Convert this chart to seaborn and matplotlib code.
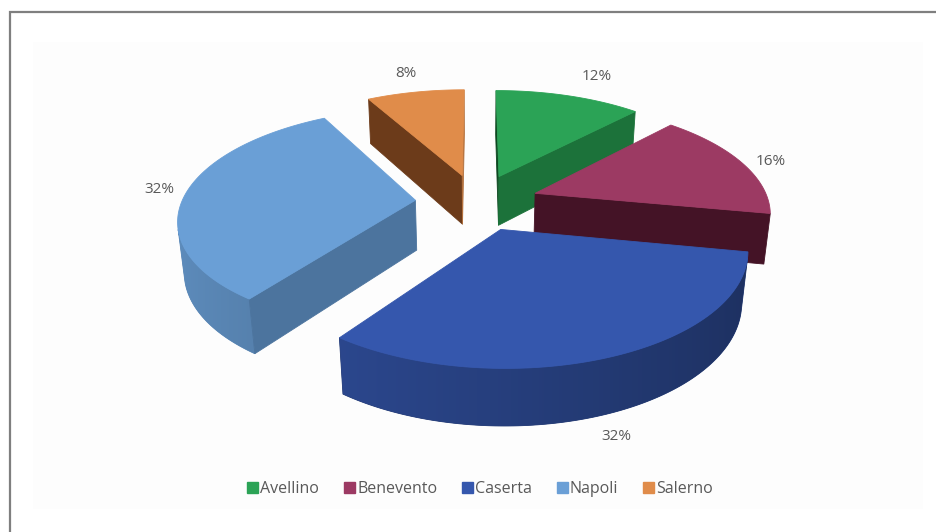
import numpy as np
import matplotlib
matplotlib.use("Agg")
import matplotlib.pyplot as plt
from matplotlib.patches import Patch, Rectangle, Polygon
from matplotlib.colors import to_rgb
import seaborn as sns

# Share of the total per province (percent)
provinces = ["Avellino", "Benevento", "Caserta", "Napoli", "Salerno"]
shares = [12, 16, 32, 32, 8]
top_colors = ["#2ba356", "#9c3a63", "#3557ad", "#6a9fd6", "#e08c4a"]

sns.set_theme(style="white")
plt.rcParams["font.family"] = ["Open Sans", "DejaVu Sans"]

W, HPX = 936, 532
fig = plt.figure(figsize=(W / 100, HPX / 100), dpi=100)
ax = fig.add_axes([0, 0, 1, 1])
ax.set_xlim(0, W)
ax.set_ylim(HPX, 0)
ax.axis("off")

# chart frame and faint plot area
ax.add_patch(Rectangle((33, 42), 890, 467, fc="#fdfdfd", ec="none", zorder=0))
ax.plot([10, 10, 936], [532, 12, 12], color="#7f7f7f", lw=1.6,
        solid_joinstyle="miter", zorder=1)

# perspective camera for the 3-D pie
ELEV = np.radians(29.5)
DIST = 5.6
FOCAL = 1280
CX, CY = 477, 252
THICK = 0.246
EXPLODE = 0.265
cosE, sinE = np.cos(ELEV), np.sin(ELEV)
camera = np.array([0.0, -DIST * cosE, DIST * sinE])


def project(X, Y, Z):
    X, Y, Z = np.asarray(X, float), np.asarray(Y, float), np.asarray(Z, float)
    depth = DIST + Y * cosE - Z * sinE
    v = Y * sinE + Z * cosE
    return CX + FOCAL * X / depth, CY - FOCAL * v / depth


def facing(point, normal):
    return np.dot(np.asarray(point) - camera, normal) < 0


def shade(color, f, g=1.0):
    return tuple(np.clip(f * np.array(to_rgb(color)) ** g, 0, 1))


def wall_factor(t):
    return 0.72 + 0.16 * (-np.sin(t))


def draw_face(X, Y, Z, color, z, lw=0.6):
    sx, sy = project(X, Y, Z)
    ax.fill(sx, sy, color=color, ec=color, lw=lw, zorder=z)


total = float(sum(shares))
bounds = np.concatenate([[0.0], np.cumsum(shares)]) / total * 360.0

wedges = []
for i, name in enumerate(provinces):
    a0, a1 = bounds[i], bounds[i + 1]
    mid = np.radians((a0 + a1) / 2)
    ox, oy = EXPLODE * np.sin(mid), EXPLODE * np.cos(mid)
    dist = np.linalg.norm(np.array([ox, oy, THICK / 2]) - camera)
    wedges.append((dist, i, a0, a1, mid, ox, oy))

# fine placement of the percentage labels, in pixels (x, y)
label_nudge = [(19, -9), (0, 3), (-2, 9), (8, -3), (-4, -8)]

# paint far wedges first
wedges.sort(key=lambda w: -w[0])
for order, (dist, i, a0, a1, mid, ox, oy) in enumerate(wedges):
    base = top_colors[i]
    z = 10 + order * 5
    n = max(16, int((a1 - a0) / 0.5))
    t = np.radians(np.linspace(a0, a1, n))
    rx, ry = ox + np.sin(t), oy + np.cos(t)

    # curved outer wall with a smooth horizontal shading gradient
    vis = np.array([facing([ox + np.sin(a), oy + np.cos(a), THICK / 2],
                           [np.sin(a), np.cos(a), 0.0]) for a in t])
    if vis.sum() > 1:
        tv = t[vis]
        wx, wy = ox + np.sin(tv), oy + np.cos(tv)
        px, py = project(np.concatenate([wx, wx[::-1]]),
                         np.concatenate([wy, wy[::-1]]),
                         np.concatenate([np.zeros(len(tv)), np.full(len(tv), THICK)]))
        mid_c = shade(base, wall_factor(tv.mean()))
        ax.fill(px, py, color=mid_c, ec=mid_c, lw=0.6, zorder=z)
        mx, _ = project(wx, wy, np.full(len(tv), THICK / 2))
        order_x = np.argsort(mx)
        x0, x1 = px.min(), px.max()
        y0, y1 = py.min(), py.max()
        cols = np.linspace(x0, x1, max(2, int(x1 - x0) + 1))
        fac = np.interp(cols, mx[order_x], wall_factor(tv[order_x]))
        img = np.array([shade(base, f) for f in fac])[None, :, :]
        im = ax.imshow(img, extent=[x0, x1, y1, y0], aspect="auto",
                       interpolation="bilinear", zorder=z + 0.5)
        clip = Polygon(np.column_stack([px, py]), closed=True,
                       transform=ax.transData, fc="none", ec="none")
        im.set_clip_path(clip)

    # radial cut faces
    for ang, turn in ((a0, -90.0), (a1, 90.0)):
        ar = np.radians(ang)
        nr = np.radians(ang + turn)
        normal = np.array([np.sin(nr), np.cos(nr), 0.0])
        ex, ey = ox + np.sin(ar), oy + np.cos(ar)
        pt = [(ox + ex) / 2, (oy + ey) / 2, THICK / 2]
        if facing(pt, normal):
            f = 0.50 + 0.30 * max(0.0, np.sin(nr))
            g = 1.0 + (0.78 - f)
            draw_face([ox, ex, ex, ox], [oy, ey, ey, oy],
                      [0, 0, THICK, THICK], shade(base, f, g), z + 1)

    # top face
    draw_face(np.concatenate([[ox], rx]), np.concatenate([[oy], ry]),
              np.full(n + 1, THICK), base, z + 2)

    # percentage label
    if np.cos(mid) < -0.5:
        lr, lz = 1.085, 0.0
    else:
        lr, lz = 1.15, THICK
    lx, ly = project(ox + lr * np.sin(mid), oy + lr * np.cos(mid), lz)
    dx, dy = label_nudge[i]
    ax.text(lx + dx, ly + dy, f"{shares[i]:.0f}%", ha="center", va="center",
            fontsize=11, color="#595959", zorder=60)

ax.set_xlim(0, W)
ax.set_ylim(HPX, 0)

handles = [Patch(facecolor=c, edgecolor=c) for c in top_colors]
fig.legend(handles, provinces, loc="center", bbox_to_anchor=(480 / W, 1 - 489 / HPX),
           ncol=5, frameon=False, fontsize=11.5, handlelength=0.7, handleheight=0.7,
           handletextpad=0.12, columnspacing=1.55, labelcolor="#595959")

fig.savefig("out.png", dpi=100)
